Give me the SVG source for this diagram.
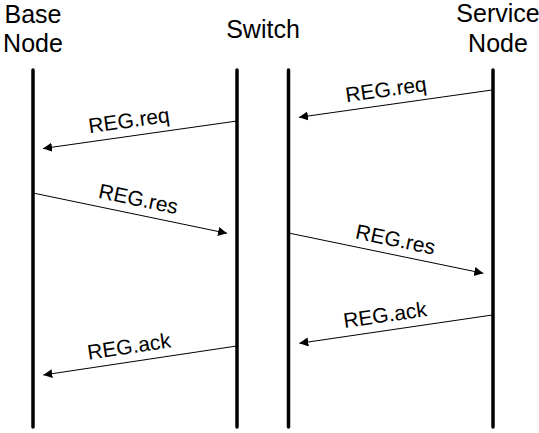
<svg xmlns="http://www.w3.org/2000/svg" width="539" height="433" viewBox="0 0 539 433">
<style>
.hdr{font-family:"Liberation Sans",Arial,sans-serif;font-size:25px;fill:#000;text-anchor:middle}
.lbl{font-family:"Liberation Sans",Arial,sans-serif;font-size:21px;fill:#000;text-anchor:middle}
.life{stroke:#000;stroke-width:3.5;stroke-linecap:round;fill:none}
.msg{stroke:#000;stroke-width:1;fill:none;marker-end:url(#ah)}
</style>
<defs>
<marker id="ah" markerUnits="userSpaceOnUse" markerWidth="10" markerHeight="10" refX="9" refY="4.5" orient="auto">
<path d="M0,0 L9,4.5 L0,9 z" fill="#000"/>
</marker>
</defs>
<rect width="539" height="433" fill="#fff"/>
<g id="base-node">
<text class="hdr" x="33" y="23">Base</text>
<text class="hdr" x="33" y="52">Node</text>
<line class="life" x1="33" y1="70" x2="33" y2="427"/>
</g>
<g id="switch">
<text class="hdr" x="263" y="38">Switch</text>
<line class="life" x1="237" y1="70" x2="237" y2="427"/>
<line class="life" x1="288.5" y1="70" x2="288.5" y2="427"/>
</g>
<g id="service-node">
<text class="hdr" x="498" y="22">Service</text>
<text class="hdr" x="498" y="52">Node</text>
<line class="life" x1="493" y1="70" x2="493" y2="427"/>
</g>
<g id="connectors">
<line class="msg" x1="237" y1="121" x2="43" y2="148.5"/>
<text class="lbl" x="130" y="127.5" transform="rotate(-8.1 130 127.5)">REG.req</text>
<line class="msg" x1="492" y1="90" x2="299" y2="117.3"/>
<text class="lbl" x="387" y="96.5" transform="rotate(-8.05 387 96.5)">REG.req</text>
<line class="msg" x1="33" y1="193" x2="227" y2="233.3"/>
<text class="lbl" x="137" y="206" transform="rotate(11.8 137 206)">REG.res</text>
<line class="msg" x1="290" y1="233.3" x2="483.3" y2="273.3"/>
<text class="lbl" x="394" y="246.5" transform="rotate(11.7 394 246.5)">REG.res</text>
<line class="msg" x1="236.7" y1="346" x2="43.3" y2="375"/>
<text class="lbl" x="130" y="353.5" transform="rotate(-8.5 130 353.5)">REG.ack</text>
<line class="msg" x1="492.3" y1="315" x2="299.3" y2="343.3"/>
<text class="lbl" x="386" y="322" transform="rotate(-8.3 386 322)">REG.ack</text>
</g>
</svg>
